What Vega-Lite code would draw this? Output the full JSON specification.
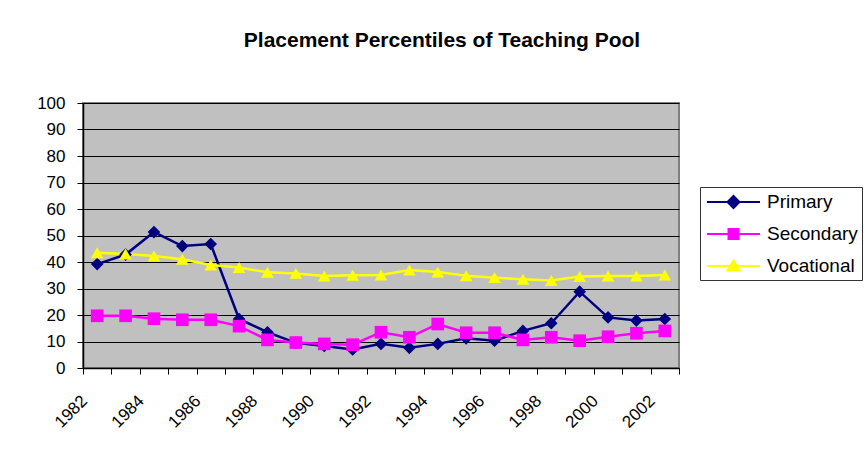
{
  "$schema": "https://vega.github.io/schema/vega-lite/v6.json",
  "autosize": {"type": "none"},
  "padding": {"left": 83, "top": 103, "right": 185, "bottom": 85},
  "width": 596,
  "height": 265,
  "background": "white",
  "title": {
    "text": "Placement Percentiles of Teaching Pool",
    "font": "Liberation Sans",
    "fontSize": 21,
    "fontWeight": "bold",
    "color": "black",
    "anchor": "middle",
    "dx": 61,
    "baseline": "alphabetic",
    "offset": 26
  },
  "config": {
    "view": {"fill": "#C0C0C0", "stroke": "#808080", "strokeWidth": 2},
    "axis": {
      "labelFont": "Liberation Sans",
      "labelFontSize": 17,
      "labelColor": "black",
      "domainColor": "black",
      "tickColor": "black",
      "tickSize": 6,
      "domainWidth": 1.5
    },
    "legend": {
      "labelFont": "Liberation Sans",
      "labelFontSize": 19,
      "labelColor": "black"
    }
  },
  "data": {
    "values": [
      {"year": "1982", "series": "Primary", "value": 39.2},
      {"year": "1983", "series": "Primary", "value": 42.8},
      {"year": "1984", "series": "Primary", "value": 51.3},
      {"year": "1985", "series": "Primary", "value": 46.0},
      {"year": "1986", "series": "Primary", "value": 46.8},
      {"year": "1987", "series": "Primary", "value": 18.5},
      {"year": "1988", "series": "Primary", "value": 13.5},
      {"year": "1989", "series": "Primary", "value": 9.5},
      {"year": "1990", "series": "Primary", "value": 8.3},
      {"year": "1991", "series": "Primary", "value": 7.0},
      {"year": "1992", "series": "Primary", "value": 9.1},
      {"year": "1993", "series": "Primary", "value": 7.6},
      {"year": "1994", "series": "Primary", "value": 9.1},
      {"year": "1995", "series": "Primary", "value": 11.2},
      {"year": "1996", "series": "Primary", "value": 10.3},
      {"year": "1997", "series": "Primary", "value": 14.0},
      {"year": "1998", "series": "Primary", "value": 16.9},
      {"year": "1999", "series": "Primary", "value": 28.8},
      {"year": "2000", "series": "Primary", "value": 19.1},
      {"year": "2001", "series": "Primary", "value": 17.9},
      {"year": "2002", "series": "Primary", "value": 18.5},
      {"year": "1982", "series": "Secondary", "value": 19.7},
      {"year": "1983", "series": "Secondary", "value": 19.7},
      {"year": "1984", "series": "Secondary", "value": 18.6},
      {"year": "1985", "series": "Secondary", "value": 18.2},
      {"year": "1986", "series": "Secondary", "value": 18.2},
      {"year": "1987", "series": "Secondary", "value": 15.8},
      {"year": "1988", "series": "Secondary", "value": 10.6},
      {"year": "1989", "series": "Secondary", "value": 9.6},
      {"year": "1990", "series": "Secondary", "value": 9.1},
      {"year": "1991", "series": "Secondary", "value": 8.8},
      {"year": "1992", "series": "Secondary", "value": 13.5},
      {"year": "1993", "series": "Secondary", "value": 11.6},
      {"year": "1994", "series": "Secondary", "value": 16.6},
      {"year": "1995", "series": "Secondary", "value": 13.3},
      {"year": "1996", "series": "Secondary", "value": 13.3},
      {"year": "1997", "series": "Secondary", "value": 10.6},
      {"year": "1998", "series": "Secondary", "value": 11.6},
      {"year": "1999", "series": "Secondary", "value": 10.3},
      {"year": "2000", "series": "Secondary", "value": 11.8},
      {"year": "2001", "series": "Secondary", "value": 13.1},
      {"year": "2002", "series": "Secondary", "value": 14.0},
      {"year": "1982", "series": "Vocational", "value": 43.5},
      {"year": "1983", "series": "Vocational", "value": 43.0},
      {"year": "1984", "series": "Vocational", "value": 42.3},
      {"year": "1985", "series": "Vocational", "value": 41.0},
      {"year": "1986", "series": "Vocational", "value": 38.9},
      {"year": "1987", "series": "Vocational", "value": 37.9},
      {"year": "1988", "series": "Vocational", "value": 36.1},
      {"year": "1989", "series": "Vocational", "value": 35.7},
      {"year": "1990", "series": "Vocational", "value": 34.7},
      {"year": "1991", "series": "Vocational", "value": 35.0},
      {"year": "1992", "series": "Vocational", "value": 35.1},
      {"year": "1993", "series": "Vocational", "value": 37.0},
      {"year": "1994", "series": "Vocational", "value": 36.2},
      {"year": "1995", "series": "Vocational", "value": 34.8},
      {"year": "1996", "series": "Vocational", "value": 34.1},
      {"year": "1997", "series": "Vocational", "value": 33.5},
      {"year": "1998", "series": "Vocational", "value": 33.0},
      {"year": "1999", "series": "Vocational", "value": 34.5},
      {"year": "2000", "series": "Vocational", "value": 34.7},
      {"year": "2001", "series": "Vocational", "value": 34.7},
      {"year": "2002", "series": "Vocational", "value": 35.1}
    ]
  },
  "encoding": {
    "x": {
      "field": "year",
      "type": "ordinal",
      "bandPosition": 0.5,
      "scale": {"type": "band", "paddingInner": 0, "paddingOuter": 0},
      "axis": {
        "title": null,
        "tickBand": "extent",
        "labelAngle": -45,
        "labelAlign": "right",
        "labelBaseline": "middle",
        "labelPadding": 24,
        "labelOffset": -13,
        "labelOverlap": false,
        "labelExpr": "toNumber(datum.value) % 2 == 0 ? datum.label : ''",
        "grid": false
      }
    },
    "y": {
      "field": "value",
      "type": "quantitative",
      "scale": {"domain": [0, 100], "nice": false},
      "axis": {
        "title": null,
        "values": [0, 10, 20, 30, 40, 50, 60, 70, 80, 90, 100],
        "grid": true,
        "gridColor": "black",
        "gridOpacity": 1,
        "gridWidth": 1,
        "labelPadding": 12
      }
    }
  },
  "layer": [
    {
      "mark": {"type": "line", "strokeWidth": 2.5},
      "encoding": {
        "color": {
          "field": "series",
          "type": "nominal",
          "scale": {"domain": ["Primary", "Secondary", "Vocational"], "range": ["#000080", "#FF00FF", "#FFFF00"]},
          "legend": null
        }
      }
    },
    {
      "mark": {"type": "point", "filled": true, "opacity": 1, "size": 160},
      "encoding": {
        "color": {"field": "series", "type": "nominal", "legend": null},
        "shape": {
          "field": "series",
          "type": "nominal",
          "scale": {"domain": ["Primary", "Secondary", "Vocational"], "range": ["diamond", "square", "triangle-up"]},
          "legend": null
        }
      }
    },
    {
      "mark": {"type": "point", "opacity": 0, "strokeWidth": 2},
      "encoding": {
        "fill": {
          "field": "series",
          "type": "nominal",
          "title": null,
          "scale": {"domain": ["Primary", "Secondary", "Vocational"], "range": ["#000080", "#FF00FF", "#FFFF00"]},
          "legend": {
            "orient": "none",
            "legendX": 617,
            "legendY": 84,
            "symbolSize": 400,
            "symbolOpacity": 1,
            "symbolStrokeWidth": 2,
            "symbolOffset": 18.5,
            "strokeColor": "#333333",
            "fillColor": "white",
            "padding": 4,
            "rowPadding": 11,
            "labelOffset": 22.5
          }
        },
        "stroke": {
          "field": "series",
          "type": "nominal",
          "title": null,
          "scale": {"domain": ["Primary", "Secondary", "Vocational"], "range": ["#000080", "#FF00FF", "#FFFF00"]},
          "legend": {
            "orient": "none",
            "legendX": 617,
            "legendY": 84,
            "symbolSize": 400,
            "symbolOpacity": 1,
            "symbolStrokeWidth": 2,
            "symbolOffset": 18.5,
            "strokeColor": "#333333",
            "fillColor": "white",
            "padding": 4,
            "rowPadding": 11,
            "labelOffset": 22.5
          }
        },
        "shape": {
          "field": "series",
          "type": "nominal",
          "title": null,
          "scale": {
            "domain": ["Primary", "Secondary", "Vocational"],
            "range": [
              "M-2.65,0H2.65M0,-0.6L0.6,0L0,0.6L-0.6,0Z",
              "M-2.65,0H2.65M-0.5,-0.5H0.5V0.5H-0.5Z",
              "M-2.65,0H2.65M0,-0.55L0.62,0.45H-0.62Z"
            ]
          },
          "legend": {
            "orient": "none",
            "legendX": 617,
            "legendY": 84,
            "symbolSize": 400,
            "symbolOpacity": 1,
            "symbolStrokeWidth": 2,
            "symbolOffset": 18.5,
            "strokeColor": "#333333",
            "fillColor": "white",
            "padding": 4,
            "rowPadding": 11,
            "labelOffset": 22.5
          }
        }
      }
    }
  ],
  "resolve": {"scale": {"shape": "independent", "fill": "independent", "stroke": "independent"}}
}
